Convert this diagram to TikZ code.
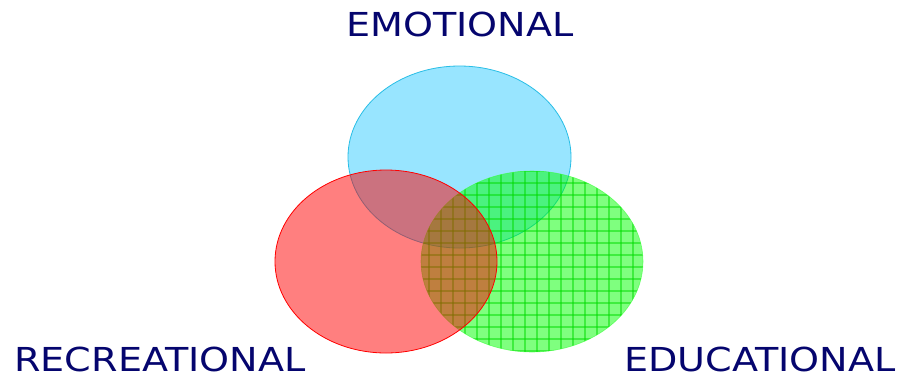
\documentclass[tikz,border=0pt]{standalone}
\usepackage{fontspec}
\setmainfont{DejaVu Sans}
\definecolor{navy}{RGB}{5,5,110}
\definecolor{cyanf}{RGB}{51,204,255}
\definecolor{cyand}{RGB}{40,190,230}
\definecolor{gridg}{RGB}{0,220,0}
\newcommand{\widecaps}[1]{\scalebox{1.155}[1]{#1}}
\begin{document}
\begin{tikzpicture}[x=1pt,y=-1pt]
\tikzset{
  lbl/.style={inner sep=0pt,text=navy,font=\fontsize{33}{33}\selectfont},
  venn/.style={fill opacity=0.5, line width=0.8pt},
  gline/.style={gridg, line width=1.3pt, opacity=0.5}
}
\useasboundingbox (0,0) rectangle (899,378);
\fill[white] (0,0) rectangle (899,378);
% blue
\draw[venn, fill=cyanf, draw=cyand] (459.5,157) ellipse [x radius=111.5, y radius=91];
% green with grid
\fill[fill=green, fill opacity=0.5] (532,261.5) ellipse [x radius=111, y radius=90.5];
\begin{scope}
  \clip (532,261.5) ellipse [x radius=111, y radius=90.5];
  \foreach \gx in {417,429,...,645} {\draw[gline] (\gx,165) -- (\gx,360);}
  \foreach \gy in {171,183,...,360} {\draw[gline] (415,\gy) -- (650,\gy);}
\end{scope}
\draw[green!80!white, line width=0.6pt, opacity=0.6] (532,261.5) ellipse [x radius=111, y radius=90.5];
% red
\draw[venn, fill=red, draw=red] (386,261.5) ellipse [x radius=111, y radius=91.5];
% labels
\node[lbl] (emo) at (460,24.5) {\widecaps{EMOTIONAL}};
\node[lbl] (rec) at (160,359.5) {\widecaps{RECREATIONAL}};
\node[lbl] (edu) at (760,359.5) {\widecaps{EDUCATIONAL}};
\end{tikzpicture}
\end{document}
